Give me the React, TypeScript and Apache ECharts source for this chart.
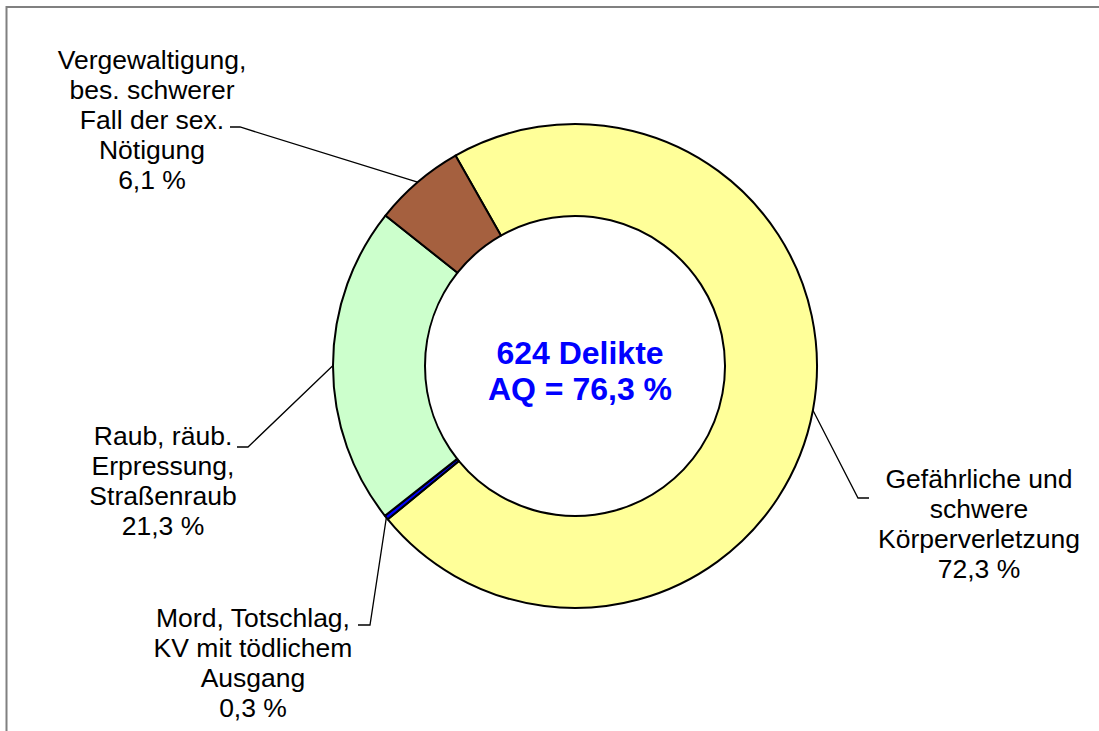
import React, { useEffect, useRef } from "react";
import * as echarts from "echarts";

// Data
const categories = [
  "Gefährliche und\nschwere\nKörperverletzung",
  "Mord, Totschlag,\nKV mit tödlichem\nAusgang",
  "Raub, räub.\nErpressung,\nStraßenraub",
  "Vergewaltigung,\nbes. schwerer\nFall der sex.\nNötigung",
];
const shares = [72.3, 0.3, 21.3, 6.1];
const sliceColors = ["#FFFF99", "#0000FF", "#CCFFCC", "#A5603F"];
const totalOffences = 624;
const clearanceRate = 76.3;

// Layout of the labels (text centre x, text top y, leader elbow, leader end)
const labelBoxes = [
  { x: 979, y: 464, elbow: [858, 498], end: [869, 498] },
  { x: 253, y: 603, elbow: [370, 625], end: [358, 625] },
  { x: 163, y: 421, elbow: [248, 447], end: [237, 447] },
  { x: 152, y: 45, elbow: [240, 127], end: [230, 127] },
];

const fmt = (v: number) => v.toFixed(1).replace(".", ",");

export default function App() {
  const ref = useRef<HTMLDivElement>(null);
  useEffect(() => {
    if (!ref.current) return;
    const chart = echarts.init(ref.current, null, { renderer: "svg" });
    const font = "'Liberation Sans', Arial, sans-serif";
    chart.setOption({
      animation: false,
      backgroundColor: "#ffffff",
      graphic: [
        {
          type: "rect",
          shape: { x: 6.5, y: 7, width: 1400, height: 1000 },
          style: { fill: "none", stroke: "#808080", lineWidth: 2 },
          silent: true,
        },
        {
          type: "text",
          x: 580,
          y: 371,
          style: {
            text: `${totalOffences} Delikte\nAQ = ${fmt(clearanceRate)} %`,
            fill: "#0000FF",
            fontFamily: font,
            fontSize: 32,
            fontWeight: "bold",
            lineHeight: 36,
            align: "center",
            verticalAlign: "middle",
          },
        },
      ],
      series: [
        {
          type: "pie",
          center: [575, 366],
          radius: [150, 242],
          startAngle: 119.6,
          clockwise: true,
          avoidLabelOverlap: false,
          minShowLabelAngle: 0,
          itemStyle: { borderColor: "#000000", borderWidth: 2 },
          label: {
            show: true,
            position: "outside",
            color: "#000000",
            fontFamily: font,
            fontSize: 26.5,
            lineHeight: 30,
            align: "center",
            formatter: (p: any) => `${p.name}\n${fmt(p.value)} %`,
          },
          labelLine: {
            show: true,
            length: 20,
            length2: 10,
            lineStyle: { color: "#000000", width: 1.3 },
          },
          labelLayout: (params: any) => {
            const box = labelBoxes[params.dataIndex];
            const p0 = params.labelLinePoints ? params.labelLinePoints[0] : box.elbow;
            return {
              x: box.x,
              y: box.y,
              align: "center",
              verticalAlign: "top",
              labelLinePoints: [p0, box.elbow, box.end],
            };
          },
          emphasis: { disabled: true },
          data: categories.map((name, i) => ({
            name,
            value: shares[i],
            itemStyle: { color: sliceColors[i] },
          })),
        },
      ],
    });
    return () => chart.dispose();
  }, []);
  return (
    <div
      ref={ref}
      style={{ position: "fixed", left: 0, top: 0, width: 1099, height: 731 }}
    />
  );
}
